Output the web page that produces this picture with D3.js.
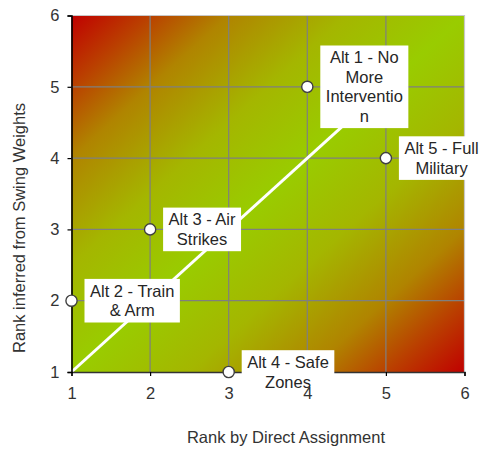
<!DOCTYPE html>
<html>
<head>
<meta charset="utf-8">
<script src="https://cdn.jsdelivr.net/npm/d3@7/dist/d3.min.js"></script>
<style>
  html, body { margin: 0; padding: 0; background: #fff; }
  svg { display: block; font-family: "Liberation Sans", Arial, sans-serif; }
</style>
</head>
<body>
<svg id="chart" width="481" height="449"></svg>
<script>
// Alternatives, ranked two ways
const alternatives = ["Alt 1", "Alt 2", "Alt 3", "Alt 4", "Alt 5"];
const directRank = [4, 1, 2, 3, 5];
const swingRank = [5, 2, 3, 1, 4];
const labelLines = [
  ["Alt 1 - No", "More", "Interventio", "n"],
  ["Alt 2 - Train", "& Arm"],
  ["Alt 3 - Air", "Strikes"],
  ["Alt 4 - Safe", "Zones"],
  ["Alt 5 - Full", "Military"]
];
const tickValues = [1, 2, 3, 4, 5, 6];
// Line of perfect agreement between the two rankings
const agreementLine = [[1, 1], [5, 5]];

const svg = d3.select("#chart");
const x = d3.scaleLinear().domain([1, 6]).range([71.5, 464.5]);
const y = d3.scaleLinear().domain([1, 6]).range([372, 15.5]);
const FONT = 16.5;

// Diagonal red-green-red background
const bgStops = [
  [0, "#c00000"], [0.1, "#ba4000"], [0.2, "#b08400"], [0.35, "#a4b600"],
  [0.5, "#99cc00"],
  [0.65, "#a4b600"], [0.8, "#b08400"], [0.9, "#ba4000"], [1, "#c00000"]
];
const grad = svg.append("defs").append("linearGradient")
  .attr("id", "bg").attr("x1", 0).attr("y1", 0).attr("x2", 1).attr("y2", 1);
grad.selectAll("stop").data(bgStops).join("stop")
  .attr("offset", d => d[0]).attr("stop-color", d => d[1]);

svg.append("rect")
  .attr("x", x(1)).attr("y", y(6))
  .attr("width", x(6) - x(1)).attr("height", y(1) - y(6))
  .attr("fill", "url(#bg)");

// Gridlines
const inner = tickValues.filter(v => v > 1 && v < 6);
svg.append("g").selectAll("line").data(inner).join("line")
  .attr("x1", d => x(d)).attr("x2", d => x(d))
  .attr("y1", y(1)).attr("y2", y(6))
  .attr("stroke", "#7f7f7f").attr("stroke-width", 1.2);
svg.append("g").selectAll("line").data(inner).join("line")
  .attr("y1", d => y(d)).attr("y2", d => y(d))
  .attr("x1", x(1)).attr("x2", x(6))
  .attr("stroke", "#7f7f7f").attr("stroke-width", 1.2);

// Top and right border
svg.append("path")
  .attr("d", `M${x(1)},${y(6)}H${x(6)}V${y(1)}`)
  .attr("fill", "none").attr("stroke", "#c8c8c8").attr("stroke-width", 1.2);

// Agreement line
svg.append("path")
  .datum(agreementLine)
  .attr("d", d3.line().x(d => x(d[0])).y(d => y(d[1])))
  .attr("fill", "none").attr("stroke", "#fff").attr("stroke-width", 3);

// Axes: lines and ticks first, labels later so they sit on top
const xAxisFn = d3.axisBottom(x).tickValues(tickValues).tickFormat(d3.format("d")).tickSize(4).tickPadding(11);
const yAxisFn = d3.axisLeft(y).tickValues(tickValues).tickFormat(d3.format("d")).tickSize(4).tickPadding(8);
function styleAxis(g, keepText) {
  g.select(".domain").attr("stroke", "#000").attr("stroke-width", 1.6);
  g.selectAll(".tick line").attr("stroke", "#000").attr("stroke-width", 1.2);
  g.selectAll(".tick text").attr("font-size", FONT).attr("fill", "#333")
    .attr("font-family", "Liberation Sans, Arial, sans-serif");
  if (keepText) { g.select(".domain").remove(); g.selectAll(".tick line").remove(); }
  else g.selectAll(".tick text").remove();
}
const xAxis = svg.append("g").attr("transform", `translate(0,${y(1)})`).call(xAxisFn);
styleAxis(xAxis, false);
xAxis.select(".domain").attr("stroke", "#333");
const yAxis = svg.append("g").attr("transform", `translate(${x(1)},0)`).call(yAxisFn);
styleAxis(yAxis, false);

// Points
const points = alternatives.map((name, i) => ({
  name, dx: directRank[i], sw: swingRank[i], lines: labelLines[i]
}));
svg.append("g").selectAll("circle").data(points).join("circle")
  .attr("cx", d => x(d.dx)).attr("cy", d => y(d.sw)).attr("r", 5.6)
  .attr("fill", "#fff").attr("stroke", "#404040").attr("stroke-width", 1.4);

// Data labels: white boxes to the right of each point
const LH = 19.5, PADX = 5.5, PADY = 2.3;
const labels = svg.append("g").selectAll("g").data(points).join("g");
labels.each(function (d) {
  const g = d3.select(this);
  const rect = g.append("rect").attr("fill", "#fff");
  const text = g.append("text")
    .attr("font-size", FONT).attr("fill", "#262626").attr("text-anchor", "middle");
  d.lines.forEach(l => text.append("tspan").text(l));
  let w = 0;
  text.selectAll("tspan").each(function () { w = Math.max(w, this.getComputedTextLength()); });
  const bw = w + 2 * PADX;
  const bh = d.lines.length * LH + 2 * PADY;
  const bx = x(d.dx) + 13;
  const by = y(d.sw) - bh / 2;
  rect.attr("x", bx).attr("y", by).attr("width", bw).attr("height", bh);
  text.selectAll("tspan")
    .attr("x", bx + bw / 2)
    .attr("y", (_, k) => by + PADY + LH * k + LH / 2)
    .attr("dy", "0.35em");
});

// Tick labels
styleAxis(svg.append("g").attr("transform", `translate(0,${y(1)})`).call(xAxisFn), true);
styleAxis(svg.append("g").attr("transform", `translate(${x(1)},0)`).call(yAxisFn), true);

// Axis titles
svg.append("text")
  .attr("x", 286).attr("y", 443).attr("text-anchor", "middle")
  .attr("font-size", FONT).attr("fill", "#333")
  .text("Rank by Direct Assignment");
svg.append("text")
  .attr("transform", "translate(25,228) rotate(-90)").attr("text-anchor", "middle")
  .attr("font-size", FONT).attr("fill", "#333")
  .text("Rank inferred from Swing Weights");
</script>
</body>
</html>
